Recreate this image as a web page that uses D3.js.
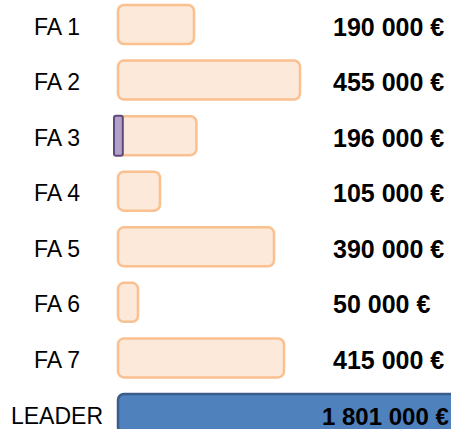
<!DOCTYPE html>
<html>
<head>
<meta charset="utf-8">
<script src="https://cdn.jsdelivr.net/npm/d3@7"></script>
<style>
    body { margin: 0; background: #ffffff; }
    svg { display: block; }
</style>
</head>
<body>
<div id="chart"></div>
<script>
    "use strict";

    // chart data
    let categories = ["FA 1", "FA 2", "FA 3", "FA 4", "FA 5", "FA 6", "FA 7", "LEADER"];
    let amounts = [190000, 455000, 196000, 105000, 390000, 50000, 415000, 1801000];
    let leaderName = "LEADER";

    // small highlighted marker on the left edge of a bar
    let markerCategories = ["FA 3"];
    let markerAmounts = [22000];

    function draw() {
        let width = 451;
        let height = 429;
        let barHeight = 39;

        let svg = d3.select("#chart").append("svg")
            .attr("width", width)
            .attr("height", height);

        // setup x
        let xScale = d3.scaleLinear()
            .domain([0, 1000000])
            .range([118, 518]);

        // setup y
        let yScale = d3.scalePoint()
            .domain(categories)
            .range([24.5, 413.5]);

        let locale = d3.formatLocale({
            decimal: ",",
            thousands: "\u00a0",
            grouping: [3],
            currency: ["", "\u00a0€"]
        });
        let formatAmount = locale.format("$,d");

        let rows = categories.map((c, i) => ({ name: c, value: amounts[i], leader: c === leaderName }));

        // draw bars
        svg.selectAll(".bar")
            .data(rows)
            .enter()
            .append("rect")
            .attr("class", "bar")
            .attr("x", xScale(0))
            .attr("y", d => yScale(d.name) - barHeight / 2)
            .attr("width", d => xScale(d.value) - xScale(0))
            .attr("height", barHeight)
            .attr("rx", 6)
            .attr("ry", 6)
            .style("fill", d => d.leader ? "#4f81bd" : "#fde9d9")
            .style("stroke", d => d.leader ? "#385d8a" : "#fac090")
            .style("stroke-width", 2.5);

        // draw marker
        svg.selectAll(".marker")
            .data(markerCategories)
            .enter()
            .append("rect")
            .attr("class", "marker")
            .attr("x", xScale(0) - 4)
            .attr("y", d => yScale(d) - 20)
            .attr("width", (_d, i) => xScale(markerAmounts[i]) - xScale(0))
            .attr("height", 40)
            .attr("rx", 2)
            .attr("ry", 2)
            .style("fill", "#b3a2c7")
            .style("stroke", "#5f497a")
            .style("stroke-width", 2);

        // category labels
        svg.selectAll(".label")
            .data(rows)
            .enter()
            .append("text")
            .attr("class", "label")
            .attr("x", 57)
            .attr("y", d => yScale(d.name) + 10)
            .style("text-anchor", "middle")
            .style("font-family", "'Liberation Sans', Arial, sans-serif")
            .style("font-size", "23px")
            .style("fill", "#000000")
            .text(d => d.name);

        // value labels (leader one is inside its bar, kept within the page)
        svg.selectAll(".value")
            .data(rows)
            .enter()
            .append("text")
            .attr("class", "value")
            .attr("x", d => d.leader ? 322 : 333)
            .attr("y", d => yScale(d.name) + 11)
            .style("font-family", "'Liberation Sans', Arial, sans-serif")
            .style("font-size", d => d.leader ? "24px" : "25px")
            .style("font-weight", "bold")
            .style("fill", "#000000")
            .text(d => formatAmount(d.value));
    }

    draw();
</script>
</body>
</html>
